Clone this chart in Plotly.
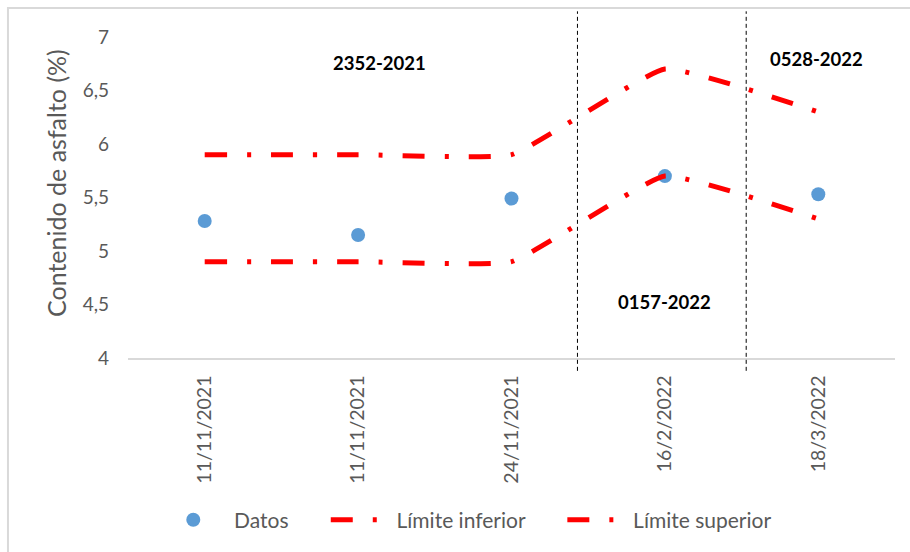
import plotly.graph_objects as go

# Sample dates (two samples share the same date)
fechas = ["11/11/2021", "11/11/2021", "24/11/2021", "16/2/2022", "18/3/2022"]
datos = [5.28, 5.15, 5.49, 5.70, 5.53]
limite_inferior = [4.9, 4.9, 4.9, 5.7, 5.3]
limite_superior = [5.9, 5.9, 5.9, 6.7, 6.3]

# Job separators (category-axis positions) and job labels
separadores = [2.43, 3.53]
obras = ["2352-2021", "0157-2022", "0528-2022"]
obras_x = [1.14, 3.0, 3.99]
obras_y = [6.76, 4.52, 6.79]

pos = list(range(len(fechas)))
FONT = "Lato"
GRIS = "#595959"
ROJO = "#FF0000"
DASH = "22px,20px,4px,20px"
NB = "\u00a0"

def etiqueta(nombre):
    # pad legend labels so entries are spread out
    return NB * 2 + nombre + NB * 6

fig = go.Figure()
fig.add_trace(go.Scatter(
    x=pos, y=datos, mode="markers", name=etiqueta("Datos"),
    marker=dict(color="#5B9BD5", size=14),
))
fig.add_trace(go.Scatter(
    x=pos, y=limite_inferior, mode="lines", name=etiqueta("Límite inferior"),
    line=dict(color=ROJO, width=5, dash=DASH, shape="spline", smoothing=0.35),
))
fig.add_trace(go.Scatter(
    x=pos, y=limite_superior, mode="lines", name=etiqueta("Límite superior"),
    line=dict(color=ROJO, width=5, dash=DASH, shape="spline", smoothing=0.35),
))

for sx in separadores:
    fig.add_shape(type="line", xref="x", yref="paper", x0=sx, x1=sx,
                  y0=-0.04, y1=1.08,
                  line=dict(color="#000000", width=1, dash="4px,3px"))

for txt, ox, oy in zip(obras, obras_x, obras_y):
    fig.add_annotation(x=ox, y=oy, xref="x", yref="y", text=f"<b>{txt}</b>",
                       showarrow=False, font=dict(family=FONT, size=18.5, color="#000000"))

# Chart-area frame
fig.add_shape(type="rect", xref="paper", yref="paper",
              x0=-0.1565, x1=1.05, y0=-0.65, y1=1.0903,
              line=dict(color="#D9D9D9", width=2), layer="below")

fig.add_annotation(text="Contenido de asfalto (%)", textangle=-90,
                   xref="paper", yref="paper", x=-0.094, y=0.545,
                   xanchor="center", yanchor="middle",
                   showarrow=False, font=dict(family=FONT, size=25, color=GRIS))

fig.update_layout(
    width=910, height=552,
    margin=dict(l=128, r=15, t=37, b=194),
    paper_bgcolor="white", plot_bgcolor="white",
    font=dict(family=FONT, color=GRIS, size=19),
    showlegend=True,
    legend=dict(orientation="h", x=0.046, xanchor="left", y=-0.505, yanchor="middle",
                font=dict(family=FONT, size=21, color=GRIS), itemwidth=50,
                traceorder="normal"),
    xaxis=dict(range=[-0.5, 4.5], tickmode="array", tickvals=pos, ticktext=fechas,
               tickangle=-90, showgrid=False, zeroline=False,
               showline=True, linecolor="#D9D9D9", linewidth=1.5,
               ticks="", ticklabelstandoff=8, tickfont=dict(size=19.5, color=GRIS)),
    yaxis=dict(range=[4, 7], tickvals=[4, 4.5, 5, 5.5, 6, 6.5, 7],
               ticktext=["4", "4,5", "5", "5,5", "6", "6,5", "7"],
               showgrid=False, zeroline=False, showline=False, ticks="",
               ticklabelstandoff=18, tickfont=dict(size=19, color=GRIS)),
)

fig.write_html("out.html")
